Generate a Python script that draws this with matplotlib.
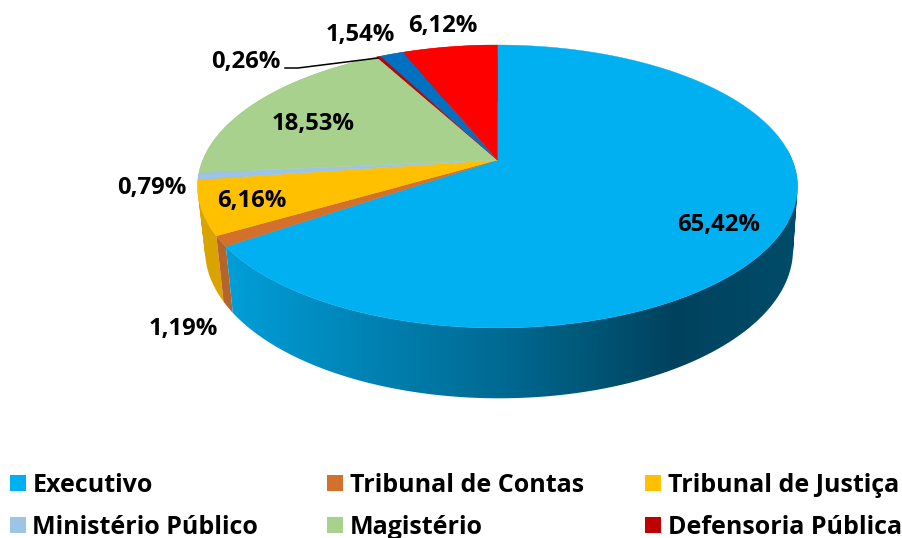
#!/usr/bin/env python3
"""3D style pie chart, drawn by hand since matplotlib has no perspective pie."""

import numpy as np
import matplotlib
matplotlib.use('Agg')
import matplotlib.pyplot as plt
from matplotlib.colors import to_rgb
from matplotlib.patches import PathPatch, Polygon, Rectangle
from matplotlib.path import Path

# Data
categories = ['Executivo', 'Tribunal de Contas', 'Tribunal de Justiça',
              'Ministério Público', 'Magistério', 'Defensoria Pública',
              'Outros 1', 'Outros 2']
values = [65.42, 1.19, 6.16, 0.79, 18.53, 0.26, 1.54, 6.12]
legend_count = 6

# Styles
top_colors = ['#00B0F0', '#D2702C', '#FFC000', '#9DC3E6',
              '#A9D18E', '#C00000', '#0070C0', '#FF0000']
wall_colors = ['#0096CC', '#B5652B', '#D9A400', '#86A6C4',
               '#90B279', '#A30000', '#005FA3', '#D90000']
# Executivo wall shading, from left to right in pixels
shade_x = [225, 350, 500, 600, 675, 800]
shade_c = ['#009FD9', '#0086B8', '#006A93', '#005473', '#00425E', '#004C6A']

plt.rcParams['font.family'] = ['Open Sans', 'DejaVu Sans']

# Perspective of the disc, the axes are in image pixels
cx, cy = 497.5, 160.0
rx, ry, k = 294.7, 136.5, -0.187
bottom_x, bottom_y, bottom_off, bottom_dx = 0.98, 1.05, 62.0, 1.5


def top_point(theta):
    """Point on the top rim, theta in degrees clockwise from 12 o'clock."""
    t = np.radians(theta)
    v = -np.cos(t)
    d = 1 + k * v
    return rx * np.sin(t) / d, ry * v / d


def rim(theta1, theta2):
    thetas = np.arange(theta1, theta2, 0.5)
    thetas = np.append(thetas, theta2)
    return top_point(thetas)


def wall_path(theta1, theta2):
    """Compound path of quads, all wound the same way so they add up under non-zero fill."""
    xs, ys = rim(theta1, theta2)
    xb, yb = xs * bottom_x + bottom_dx, ys * bottom_y + bottom_off
    verts, codes = [], []
    for j in range(len(xs) - 1):
        quad = [(cx + xs[j], cy + ys[j]), (cx + xs[j + 1], cy + ys[j + 1]),
                (cx + xb[j + 1], cy + yb[j + 1]), (cx + xb[j], cy + yb[j])]
        qx, qy = np.array(quad).T
        area = np.sum(qx * np.roll(qy, -1) - np.roll(qx, -1) * qy)
        if area < 0:
            quad = quad[::-1]
        verts += quad + [quad[0]]
        codes += [Path.MOVETO, Path.LINETO, Path.LINETO, Path.LINETO, Path.CLOSEPOLY]
    return Path(verts, codes)


fig, ax = plt.subplots(figsize=(9.02, 5.38), dpi=100)
fig.subplots_adjust(0, 0, 1, 1)

edges = np.cumsum([0] + values) / np.sum(values) * 360

# Walls first, back to front, the top faces cover whatever is hidden
for i in reversed(range(1, len(values))):
    ax.add_patch(PathPatch(wall_path(edges[i], edges[i + 1]), facecolor=wall_colors[i],
                           edgecolor='none', zorder=1))

# Executivo wall is a horizontal gradient clipped to its outline
grad_x = np.linspace(225, 800, 576)
rgb = np.array([to_rgb(c) for c in shade_c])
grad = np.stack([np.interp(grad_x, shade_x, rgb[:, j]) for j in range(3)], axis=-1)[np.newaxis, :, :]
img = ax.imshow(grad, extent=(225, 800, 400, 150), aspect='auto', zorder=1, interpolation='bilinear')
img.set_clip_path(wall_path(edges[0], edges[1]), transform=ax.transData)

# Top faces
for i in range(len(values)):
    xs, ys = rim(edges[i], edges[i + 1])
    pts = [(cx, cy)] + list(zip(cx + xs, cy + ys))
    ax.add_patch(Polygon(pts, facecolor=top_colors[i], edgecolor=top_colors[i],
                         linewidth=0.3, zorder=2))

# Percent labels
label_pos = [(719, 225), (183, 329), (252, 201), (152, 188),
             (313, 124), (246, 62), (360, 35), (443, 26)]
for val, (x, y) in zip(values, label_pos):
    ax.text(x, y, f'{val:.2f}%'.replace('.', ','), ha='center', va='center',
            fontsize=17.2, fontweight='bold', color='black', zorder=4)

# Leader line of the 0,26% label
ax.plot([285, 298, 378], [68, 68, 58], color='black', linewidth=1.1, zorder=3)

# Legend, only six entries fit in the original
col_x = [10, 327, 645]
row_y = [485, 527]
for i in range(legend_count):
    x = col_x[i % 3]
    y = row_y[i // 3]
    ax.add_patch(Rectangle((x, y - 10), 16, 16, facecolor=top_colors[i], edgecolor='none'))
    ax.text(x + 22.5, y, categories[i], ha='left', va='center',
            fontsize=18, fontweight='bold', color='black')

ax.set_xlim(0, 902)
ax.set_ylim(538, 0)
ax.axis('off')

fig.savefig('out.png', dpi=100)
